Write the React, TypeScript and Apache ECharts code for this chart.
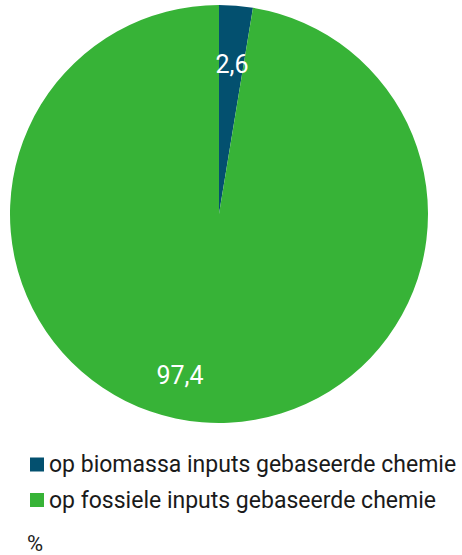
import React, { useEffect, useRef } from "react";
import * as echarts from "echarts";

const categories = ["op biomassa inputs gebaseerde chemie", "op fossiele inputs gebaseerde chemie"];
const values = [2.6, 97.4];
const labels = ["2,6", "97,4"];
const colors = ["#03506f", "#37b337"];
const unit = "%";

export default function App() {
  const ref = useRef<HTMLDivElement>(null);
  useEffect(() => {
    document.body.style.margin = "0";
    const chart = echarts.init(ref.current!, null, { renderer: "svg" });
    const labelPos = [
      [232, 64],
      [180, 375],
    ];
    chart.setOption({
      animation: false,
      color: colors,
      textStyle: { fontFamily: "Roboto" },
      title: {
        text: unit,
        left: 27,
        top: 533,
        padding: 0,
        textStyle: { fontSize: 22, lineHeight: 20, fontWeight: "normal", color: "#222", fontFamily: "Roboto" },
      },
      legend: {
        orient: "vertical",
        left: 30,
        top: 453,
        padding: 0,
        icon: "rect",
        itemWidth: 14,
        itemHeight: 14,
        itemGap: 12.5,
        textStyle: { fontSize: 23, lineHeight: 23, color: "#1a1a1a", fontFamily: "Roboto", padding: [0, 0, 0, 0] },
        data: categories,
      },
      series: [
        {
          type: "pie",
          center: [219, 214],
          radius: [0, 209],
          startAngle: 90,
          clockwise: true,
          silent: true,
          label: {
            show: true,
            position: "inside",
            formatter: (p: any) => labels[p.dataIndex],
            color: "#fff",
            fontSize: 25,
            fontFamily: "Roboto",
          },
          labelLine: { show: false },
          labelLayout: (p: any) => ({
            x: labelPos[p.dataIndex][0],
            y: labelPos[p.dataIndex][1],
            align: "center",
            verticalAlign: "middle",
          }),
          data: categories.map((c, i) => ({ name: c, value: values[i] })),
        },
      ],
    });
    return () => chart.dispose();
  }, []);
  return <div ref={ref} style={{ width: 462, height: 555 }} />;
}
